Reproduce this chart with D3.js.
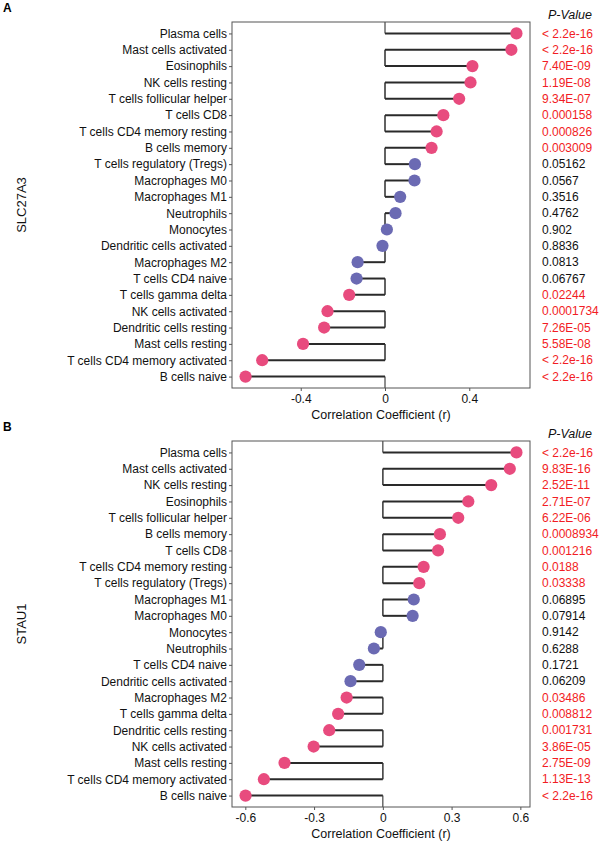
<!DOCTYPE html>
<html>
<head>
<meta charset="utf-8">
<script src="https://cdn.jsdelivr.net/npm/d3@7"></script>
<style>
  body { margin: 0; background: #fff; }
  svg { font-family: "Liberation Sans", Arial, sans-serif; }
</style>
</head>
<body>
<div id="chart"></div>
<script>
// panel A - SLC27A3
var cellsA = ['Plasma cells', 'Mast cells activated', 'Eosinophils', 'NK cells resting',
  'T cells follicular helper', 'T cells CD8', 'T cells CD4 memory resting', 'B cells memory',
  'T cells regulatory (Tregs)', 'Macrophages M0', 'Macrophages M1', 'Neutrophils', 'Monocytes',
  'Dendritic cells activated', 'Macrophages M2', 'T cells CD4 naive', 'T cells gamma delta',
  'NK cells activated', 'Dendritic cells resting', 'Mast cells resting',
  'T cells CD4 memory activated', 'B cells naive'];
var rA = [0.624, 0.600, 0.415, 0.406, 0.352, 0.277, 0.245, 0.221, 0.142, 0.140, 0.072, 0.050,
  0.009, -0.012, -0.130, -0.135, -0.170, -0.273, -0.289, -0.389, -0.583, -0.662];
var pA = ['< 2.2e-16', '< 2.2e-16', '7.40E-09', '1.19E-08', '9.34E-07', '0.000158', '0.000826',
  '0.003009', '0.05162', '0.0567', '0.3516', '0.4762', '0.902', '0.8836', '0.0813', '0.06767',
  '0.02244', '0.0001734', '7.26E-05', '5.58E-08', '< 2.2e-16', '< 2.2e-16'];
var ticksA = [-0.4, 0, 0.4];

// panel B - STAU1
var cellsB = ['Plasma cells', 'Mast cells activated', 'NK cells resting', 'Eosinophils',
  'T cells follicular helper', 'B cells memory', 'T cells CD8', 'T cells CD4 memory resting',
  'T cells regulatory (Tregs)', 'Macrophages M1', 'Macrophages M0', 'Monocytes', 'Neutrophils',
  'T cells CD4 naive', 'Dendritic cells activated', 'Macrophages M2', 'T cells gamma delta',
  'Dendritic cells resting', 'NK cells activated', 'Mast cells resting',
  'T cells CD4 memory activated', 'B cells naive'];
var rB = [0.583, 0.554, 0.473, 0.373, 0.329, 0.249, 0.241, 0.178, 0.159, 0.135, 0.130, -0.009,
  -0.039, -0.103, -0.141, -0.158, -0.195, -0.234, -0.302, -0.429, -0.519, -0.599];
var pB = ['< 2.2e-16', '9.83E-16', '2.52E-11', '2.71E-07', '6.22E-06', '0.0008934', '0.001216',
  '0.0188', '0.03338', '0.06895', '0.07914', '0.9142', '0.6288', '0.1721', '0.06209', '0.03486',
  '0.008812', '0.001731', '3.86E-05', '2.75E-09', '1.13E-13', '< 2.2e-16'];
var ticksB = [-0.6, -0.3, 0, 0.3, 0.6];

var W = 608, H = 843;
var pink = '#e84b7e', blue = '#6b6ab3', red = '#f21c24';

var svg = d3.select('#chart').append('svg')
  .attr('width', W)
  .attr('height', H);

drawPanel({ letter: 'A', gene: 'SLC27A3', cells: cellsA, r: rA, p: pA, ticks: ticksA, top: 22, id: 'a' });
drawPanel({ letter: 'B', gene: 'STAU1', cells: cellsB, r: rB, p: pB, ticks: ticksB, top: 441, id: 'b' });

///////////////////////////////////////////////////////////
function pNum(s) {
  return s.charAt(0) === '<' ? 0 : +s;
}

function drawPanel(o) {
  var left = 232, right = 530, top = o.top, bottom = o.top + 366;
  var data = o.cells.map((c, i) => ({ cell: c, r: o.r[i], p: o.p[i], i: i }));

  var ext = d3.extent(o.r);
  var pad = (ext[1] - ext[0]) * 0.05;
  var x = d3.scaleLinear().domain([ext[0] - pad, ext[1] + pad]).range([left, right]);
  var y = d3.scalePoint().domain(o.cells).range([top, bottom]).padding(0.7);
  var step = y.step();

  var g = svg.append('g');

  g.append('clipPath').attr('id', 'clip-' + o.id)
    .append('rect')
    .attr('x', left).attr('y', top)
    .attr('width', right - left).attr('height', bottom - top);

  var plot = g.append('g').attr('clip-path', 'url(#clip-' + o.id + ')');

  // vertical joins at zero
  plot.selectAll('line.join')
    .data(data)
    .enter()
    .append('line')
    .attr('class', 'join')
    .attr('x1', x(0)).attr('x2', x(0))
    .attr('y1', d => y(d.cell))
    .attr('y2', d => y(d.cell) + (d.i % 2 === 0 ? -step : step))
    .style('stroke', '#444')
    .style('stroke-width', 1.2);

  // stems
  plot.selectAll('line.stem')
    .data(data)
    .enter()
    .append('line')
    .attr('class', 'stem')
    .attr('x1', x(0))
    .attr('x2', d => x(d.r))
    .attr('y1', d => y(d.cell))
    .attr('y2', d => y(d.cell))
    .style('stroke', '#2a2a2a')
    .style('stroke-width', 2);

  plot.selectAll('circle.dot')
    .data(data)
    .enter()
    .append('circle')
    .attr('class', 'dot')
    .attr('cx', d => x(d.r))
    .attr('cy', d => y(d.cell))
    .attr('r', 6.1)
    .style('fill', d => pNum(d.p) < 0.05 ? pink : blue);

  // frame
  g.append('rect')
    .attr('x', left).attr('y', top)
    .attr('width', right - left).attr('height', bottom - top)
    .style('fill', 'none')
    .style('stroke', '#555')
    .style('stroke-width', 1);

  // axes
  var yAxis = g.append('g')
    .attr('transform', 'translate(' + left + ',0)')
    .call(d3.axisLeft(y).tickSize(3).tickPadding(2));
  var xAxis = g.append('g')
    .attr('transform', 'translate(0,' + bottom + ')')
    .call(d3.axisBottom(x).tickValues(o.ticks).tickSize(3).tickPadding(3)
      .tickFormat(d => d === 0 ? '0' : d3.format('.1f')(d).replace('\u2212', '-')));

  [yAxis, xAxis].forEach(function(ax) {
    ax.select('.domain').remove();
    ax.selectAll('.tick line').style('stroke', '#555');
    ax.selectAll('.tick text')
      .style('font-family', '"Liberation Sans", Arial, sans-serif')
      .style('font-size', '12px')
      .style('fill', '#111');
  });

  g.append('text')
    .attr('x', (left + right) / 2)
    .attr('y', bottom + 31)
    .attr('text-anchor', 'middle')
    .style('font-size', '12.5px')
    .style('fill', '#111')
    .text('Correlation Coefficient (r)');

  g.append('text')
    .attr('transform', 'translate(26,' + ((top + bottom) / 2) + ') rotate(-90)')
    .attr('text-anchor', 'middle')
    .style('font-size', '13px')
    .style('fill', '#111')
    .text(o.gene);

  g.append('text')
    .attr('x', 3)
    .attr('y', top - 10)
    .style('font-size', '12px')
    .style('font-weight', 'bold')
    .text(o.letter);

  // p-values
  g.append('text')
    .attr('x', 570)
    .attr('y', top - 3)
    .attr('text-anchor', 'middle')
    .style('font-size', '12.5px')
    .style('font-style', 'italic')
    .style('fill', '#111')
    .text('P-Value');

  g.selectAll('text.pval')
    .data(data)
    .enter()
    .append('text')
    .attr('class', 'pval')
    .attr('x', 542)
    .attr('y', d => y(d.cell))
    .attr('dy', '0.35em')
    .style('font-size', '12px')
    .style('fill', d => pNum(d.p) < 0.05 ? red : '#111')
    .text(d => d.p);
}
</script>
</body>
</html>
